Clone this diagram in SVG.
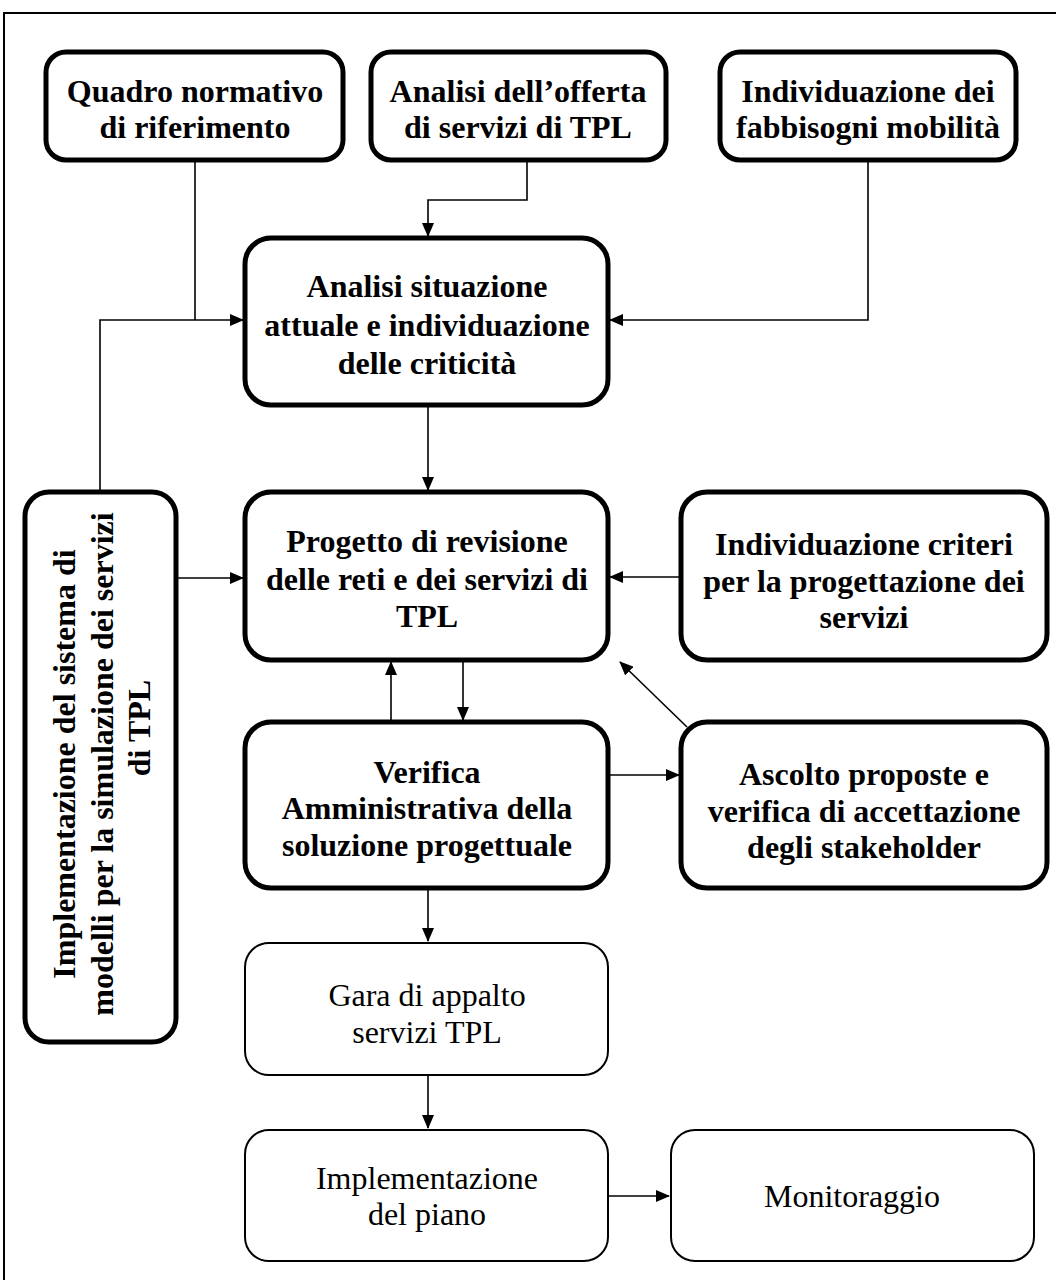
<svg xmlns="http://www.w3.org/2000/svg" width="1056" height="1280" viewBox="0 0 1056 1280">
<style>
.bx{fill:#fff;stroke:#000;stroke-width:5}
.tn{fill:#fff;stroke:#000;stroke-width:2}
.tb{font-family:"Liberation Serif","Times New Roman",serif;font-weight:bold;font-size:32px;text-anchor:middle;fill:#000}
.tt{font-family:"Liberation Serif","Times New Roman",serif;font-weight:bold;font-size:32px;text-anchor:middle;fill:#000}
.tr{font-family:"Liberation Serif","Times New Roman",serif;font-size:32px;text-anchor:middle;fill:#000}
.ln{fill:none;stroke:#000;stroke-width:1.6}
</style>
<defs>
<marker id="ah" markerWidth="14" markerHeight="12" refX="13" refY="6" orient="auto" markerUnits="userSpaceOnUse">
<path d="M0,0 L14,6 L0,12 Z" fill="#000"/>
</marker>
</defs>
<rect x="0" y="0" width="1056" height="1280" fill="#fff"/>
<path d="M4,1280 V13 H1056" fill="none" stroke="#000" stroke-width="2"/>

<g id="connectors">
<path class="ln" d="M195,160 V320"/>
<path class="ln" d="M100,492 V320 H243" marker-end="url(#ah)"/>
<path class="ln" d="M527,160 V200 H428 V236" marker-end="url(#ah)"/>
<path class="ln" d="M868,160 V320 H610" marker-end="url(#ah)"/>
<path class="ln" d="M428,405 V490" marker-end="url(#ah)"/>
<path class="ln" d="M176,578 H243" marker-end="url(#ah)"/>
<path class="ln" d="M681,577 H610" marker-end="url(#ah)"/>
<path class="ln" d="M391,722 V662" marker-end="url(#ah)"/>
<path class="ln" d="M463,660 V720" marker-end="url(#ah)"/>
<path class="ln" d="M608,775 H679" marker-end="url(#ah)"/>
<path class="ln" d="M687,727 L620,662" marker-end="url(#ah)"/>
<path class="ln" d="M428,888 V941" marker-end="url(#ah)"/>
<path class="ln" d="M428,1075 V1128" marker-end="url(#ah)"/>
<path class="ln" d="M608,1196 H669" marker-end="url(#ah)"/>
</g>

<g id="n-quadro">
<rect class="bx" x="46" y="52" width="297" height="108" rx="20"/>
<text class="tt" x="195" y="102">Quadro normativo</text>
<text class="tt" x="195" y="138">di riferimento</text>
</g>
<g id="n-offerta">
<rect class="bx" x="371" y="52" width="295" height="108" rx="20"/>
<text class="tt" x="518" y="102">Analisi dell’offerta</text>
<text class="tt" x="518" y="138">di servizi di TPL</text>
</g>
<g id="n-fabbisogni">
<rect class="bx" x="720" y="52" width="296" height="108" rx="20"/>
<text class="tt" x="868" y="102">Individuazione dei</text>
<text class="tt" x="868" y="138">fabbisogni mobilità</text>
</g>
<g id="n-analisi">
<rect class="bx" x="245" y="238" width="363" height="167" rx="26"/>
<text class="tb" x="427" y="297">Analisi situazione</text>
<text class="tb" x="427" y="336">attuale e individuazione</text>
<text class="tb" x="427" y="374">delle criticità</text>
</g>
<g id="n-modelli">
<rect class="bx" x="25" y="492" width="151" height="550" rx="24"/>
<text class="tb" transform="translate(75,764) rotate(-90)">Implementazione del sistema di</text>
<text class="tb" transform="translate(113,764) rotate(-90)">modelli per la simulazione dei servizi</text>
<text class="tb" transform="translate(150,728) rotate(-90)">di TPL</text>
</g>
<g id="n-progetto">
<rect class="bx" x="245" y="492" width="363" height="168" rx="26"/>
<text class="tb" x="427" y="552">Progetto di revisione</text>
<text class="tb" x="427" y="590">delle reti e dei servizi di</text>
<text class="tb" x="427" y="627">TPL</text>
</g>
<g id="n-criteri">
<rect class="bx" x="681" y="492" width="366" height="168" rx="26"/>
<text class="tb" x="864" y="555">Individuazione criteri</text>
<text class="tb" x="864" y="592">per la progettazione dei</text>
<text class="tb" x="864" y="628">servizi</text>
</g>
<g id="n-verifica">
<rect class="bx" x="245" y="722" width="363" height="166" rx="26"/>
<text class="tb" x="427" y="783">Verifica</text>
<text class="tb" x="427" y="819">Amministrativa della</text>
<text class="tb" x="427" y="856">soluzione progettuale</text>
</g>
<g id="n-ascolto">
<rect class="bx" x="681" y="722" width="366" height="166" rx="26"/>
<text class="tb" x="864" y="785">Ascolto proposte e</text>
<text class="tb" x="864" y="822">verifica di accettazione</text>
<text class="tb" x="864" y="858">degli stakeholder</text>
</g>
<g id="n-gara">
<rect class="tn" x="245" y="943" width="363" height="132" rx="24"/>
<text class="tr" x="427" y="1006">Gara di appalto</text>
<text class="tr" x="427" y="1043">servizi TPL</text>
</g>
<g id="n-implementazione">
<rect class="tn" x="245" y="1130" width="363" height="131" rx="24"/>
<text class="tr" x="427" y="1189">Implementazione</text>
<text class="tr" x="427" y="1225">del piano</text>
</g>
<g id="n-monitoraggio">
<rect class="tn" x="671" y="1130" width="363" height="131" rx="24"/>
<text class="tr" x="852" y="1207">Monitoraggio</text>
</g>
</svg>
